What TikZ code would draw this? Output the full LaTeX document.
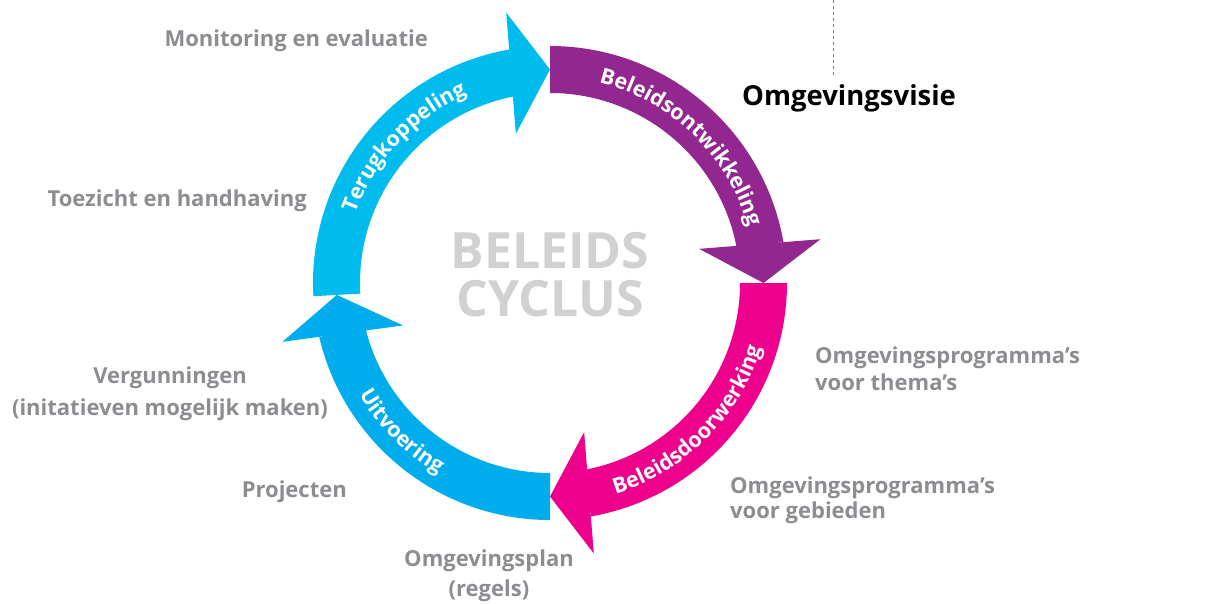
\documentclass[tikz,border=0pt]{standalone}
\usepackage{fontspec}
\setmainfont{Open Sans}
\usetikzlibrary{decorations.text,calc}
\definecolor{cyanA}{RGB}{0,187,238}
\definecolor{blueB}{RGB}{0,173,236}
\definecolor{purpleC}{RGB}{146,39,143}
\definecolor{magentaD}{RGB}{236,0,140}
\definecolor{labelgray}{RGB}{140,141,145}
\definecolor{centergray}{RGB}{208,209,211}
\definecolor{dashgray}{RGB}{120,120,120}
\newcommand\arcfont{\color{white}\bfseries\fontsize{21.5}{21.5}\selectfont}
% colour, start angle, end angle (clockwise)
\newcommand\cyclearrow[3]{%
  \fill[#1] ($(C)+(#2:237pt)$) arc[start angle=#2, end angle={#3+10}, radius=237pt]
    -- ($(C)+({#3+10}:190pt)$) arc[start angle={#3+10}, end angle=#2, radius=190pt] -- cycle;
  \fill[#1] ($(C)+(#3:213.5pt)$) -- ($(C)+({#3+9.2}:274pt)$) -- ($(C)+({#3+12.9}:153pt)$) -- cycle;
}
\begin{document}
\begin{tikzpicture}[x=1pt,y=1pt,
  lbl/.style={text=labelgray, font=\bfseries\fontsize{22}{22}\selectfont, inner sep=0pt},
  visie/.style={text=black, font=\bfseries\fontsize{27.5}{27.5}\selectfont, inner sep=0pt},
  centertxt/.style={text=centergray, font=\bfseries\fontsize{50}{50}\selectfont, inner sep=0pt},
  linkline/.style={draw=dashgray, line width=1pt, dash pattern=on 3pt off 3pt}]
\useasboundingbox (0,0) rectangle (1223,-604);
\coordinate (C) at (550,-283);

% the four arrows of the cycle
\cyclearrow{cyanA}{183.2}{90}
\cyclearrow{purpleC}{90}{0}
\cyclearrow{magentaD}{0}{-90}
\cyclearrow{blueB}{-90}{-176.8}

% texts on the arrows
\path[decorate, decoration={text along path, text align=center, text={|\arcfont|Terugkoppeling}}]
  ($(C)+(181:206pt)$) arc[start angle=181, end angle=93, radius=206pt];
\path[decorate, decoration={text along path, text align=center, text={|\arcfont|Beleidsontwikkeling}}]
  ($(C)+(89:206pt)$) arc[start angle=89, end angle=3, radius=206pt];
\path[decorate, decoration={text along path, text align=center, text={|\arcfont|Beleidsdoorwerking}}]
  ($(C)+(-88:221pt)$) arc[start angle=-88, end angle=-2, radius=221pt];
\path[decorate, decoration={text along path, text align=center, text={|\arcfont|Uitvoering}}]
  ($(C)+(-178:221pt)$) arc[start angle=-178, end angle=-92, radius=221pt];

% centre
\node[centertxt, anchor=base] (beleids) at (550,-268) {BELEIDS};
\node[centertxt, anchor=base] (cyclus) at (550,-316) {CYCLUS};

% labels
\node[lbl, anchor=base east] (monitoring) at (428,-47) {Monitoring en evaluatie};
\node[lbl, anchor=base east] (toezicht) at (307,-207) {Toezicht en handhaving};
\node[lbl, anchor=base] (vergunningen) at (170,-383) {Vergunningen};
\node[lbl, anchor=base] (initiatieven) at (170,-415) {(initatieven mogelijk maken)};
\node[lbl, anchor=base east] (projecten) at (347,-497) {Projecten};
\node[lbl, anchor=base] (omgplan) at (489,-566) {Omgevingsplan};
\node[lbl, anchor=base] (regels) at (489,-596) {(regels)};
\node[lbl, anchor=base west] (progthema) at (815,-363) {Omgevingsprogramma’s};
\node[lbl, anchor=base west] (thema) at (815,-390) {voor thema’s};
\node[lbl, anchor=base west] (proggebied) at (730,-493) {Omgevingsprogramma’s};
\node[lbl, anchor=base west] (gebieden) at (730,-518) {voor gebieden};
\node[visie, anchor=base west] (omgvisie) at (742,-106) {Omgevingsvisie};

% dotted link to the level above
\coordinate (linktop) at (833,0);
\coordinate (linkbot) at (833,-77);
\draw[linkline] (linktop) -- (linkbot);
\end{tikzpicture}
\end{document}
